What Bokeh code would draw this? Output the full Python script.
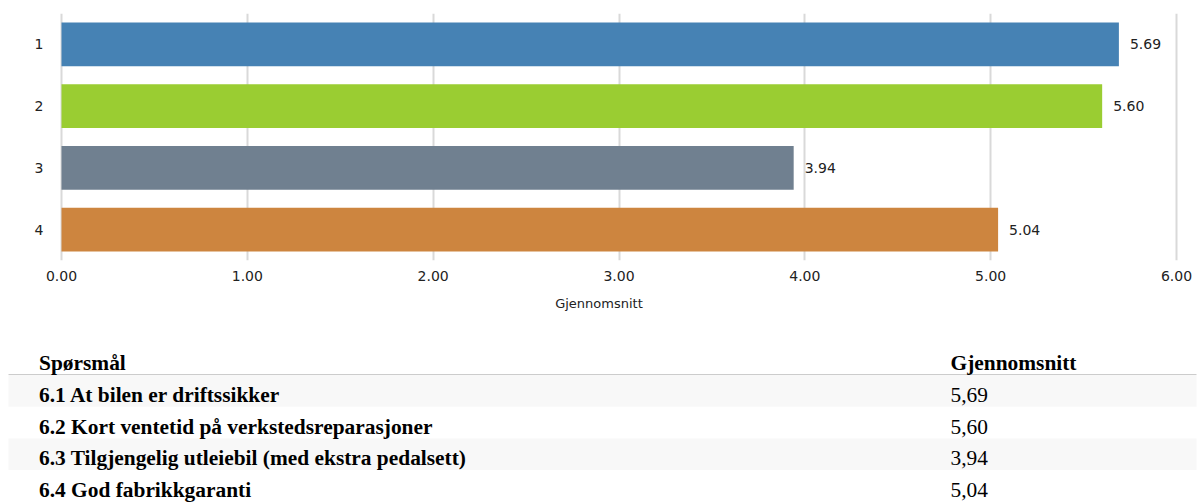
from bokeh.plotting import figure
from bokeh.models import FactorRange, Range1d, FixedTicker, NumeralTickFormatter, ColumnDataSource
from bokeh.layouts import column
from bokeh.embed import file_html
from bokeh.resources import INLINE
from bokeh.core.properties import value

# ---- data ----
categories = ["1", "2", "3", "4"]
values = [5.69, 5.60, 3.94, 5.04]
colors = ["#4682B4", "#9ACD32", "#708090", "#CD853F"]
x_ticks = [0, 1, 2, 3, 4, 5, 6]
x_label = "Gjennomsnitt"

table_headers = ["Spørsmål", "Gjennomsnitt"]
questions = [
    "6.1 At bilen er driftssikker",
    "6.2 Kort ventetid på verkstedsreparasjoner",
    "6.3 Tilgjengelig utleiebil (med ekstra pedalsett)",
    "6.4 God fabrikkgaranti",
]
table_values = ["5,69", "5,60", "3,94", "5,04"]

W = 1197
plot_left, plot_right = 61, 1176          # pixel span of the value axis 0..6
px_per_unit = (plot_right - plot_left) / (x_ticks[-1] - x_ticks[0])
x_start = x_ticks[0] - plot_left / px_per_unit
x_end = x_ticks[-1] + (W - plot_right) / px_per_unit

# ---- bar chart ----
src = ColumnDataSource(dict(
    cat=categories,
    val=values,
    color=colors,
    label=[f"{v:.2f}" for v in values],
))

p = figure(
    width=W, height=340,
    y_range=FactorRange(factors=categories[::-1], range_padding=0),
    x_range=Range1d(x_start, x_end),
    output_backend="svg", toolbar_location=None,
    min_border_left=0, min_border_right=0, min_border_top=13, min_border_bottom=80,
)
p.outline_line_color = None
p.hbar(y="cat", left=0, right="val", height=0.71, fill_color="color", line_color=None, source=src)
p.text(x="val", y="cat", text="label", x_offset=11, text_baseline="middle",
       text_font=value("DejaVu Sans"), text_font_size="14px", text_color="#222222", source=src)

p.xgrid.grid_line_color = "#d9d9d9"
p.xgrid.grid_line_width = 2
p.ygrid.grid_line_color = None

p.xaxis.ticker = FixedTicker(ticks=x_ticks)
p.xaxis.formatter = NumeralTickFormatter(format="0.00")
p.xaxis.bounds = (x_ticks[0], x_ticks[-1])
p.xaxis.axis_label = x_label
for ax in (p.xaxis[0], p.yaxis[0]):
    ax.axis_line_color = None
    ax.major_tick_line_color = None
    ax.minor_tick_line_color = None
    ax.major_tick_out = 0
    ax.major_tick_in = 0
    ax.major_label_text_font = "DejaVu Sans"
    ax.major_label_text_font_size = "14px"
    ax.major_label_text_color = "#222222"
p.xaxis.major_label_standoff = 10
p.yaxis.major_label_standoff = -43
p.xaxis.axis_label_text_font = "DejaVu Sans"
p.xaxis.axis_label_text_font_size = "13px"
p.xaxis.axis_label_text_font_style = "normal"
p.xaxis.axis_label_text_color = "#222222"
p.xaxis.axis_label_standoff = 12

# ---- table ----
t = figure(
    width=W, height=162,
    x_range=Range1d(0, W), y_range=Range1d(502, 340),
    output_backend="svg", toolbar_location=None,
    x_axis_location=None, y_axis_location=None, min_border=0,
)
t.outline_line_color = None
t.grid.visible = False

header_line_y = 374.5
row_h = 31.7
n = len(questions)
row_tops = [header_line_y + i * row_h for i in range(n)]
shade = [i for i in range(n) if i % 2 == 0]
t.quad(left=8, right=1196, top=[row_tops[i] for i in shade],
       bottom=[row_tops[i] + row_h for i in shade], fill_color="#f8f8f8", line_color=None)
t.segment(x0=8, x1=1196, y0=header_line_y - 0.5, y1=header_line_y - 0.5, line_color="#cccccc", line_width=1)

col_x = [38.5, 950]
header_mid = 362
row_mid = [394.5 + i * row_h for i in range(n)]
fs = "21.4px"
t.text(x=col_x, y=[header_mid, header_mid], text=table_headers, text_baseline="middle",
       text_font=value("Liberation Serif"), text_font_style="bold", text_font_size=fs, text_color="#000000")
t.text(x=[col_x[0]] * n, y=row_mid, text=questions, text_baseline="middle",
       text_font=value("Liberation Serif"), text_font_style="bold", text_font_size=fs, text_color="#000000")
t.text(x=[col_x[1]] * n, y=row_mid, text=table_values, text_baseline="middle",
       text_font=value("Liberation Serif"), text_font_size=fs, text_color="#000000")

layout = column(p, t, spacing=0)
open("out.html", "w").write(file_html(layout, INLINE))
